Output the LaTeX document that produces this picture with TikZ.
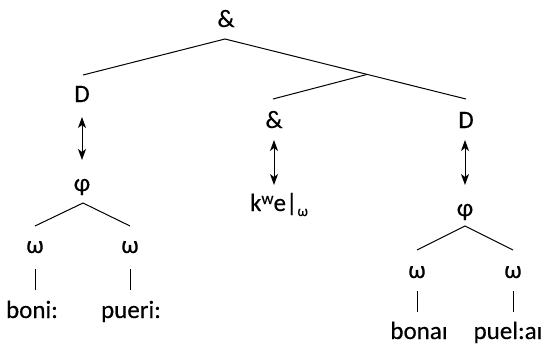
\documentclass[tikz,border=0pt]{standalone}
\usepackage{fontspec}
\setmainfont[FakeBold=0.3,AutoFakeBold=0.3]{Carlito}
\usetikzlibrary{arrows.meta,calc}

\tikzset{
  lab/.style={inner sep=0pt, anchor=base, font=\fontsize{25}{28}\selectfont\bfseries},
  branch/.style={line width=1pt},
  assoc/.style={line width=1pt, {Stealth[length=11pt,width=8pt,inset=3pt]}-{Stealth[length=11pt,width=8pt,inset=3pt]}},
}

\begin{document}
\begin{tikzpicture}[x=1pt,y=-1pt]
\useasboundingbox (0,0) rectangle (551,346);

% labels
\node[lab] (top) at (226,27) {\&};
\node[lab] (dl)  at (82,102) {D};
\node[lab] (cm)  at (274,128) {\&};
\node[lab] (dr)  at (466,128) {D};
\node[lab] (pl)  at (82,191) {φ};
\node[lab] (pr)  at (465,216) {φ};
\node[lab] (kwe) at (279,211) {k\raisebox{7pt}{\fontsize{17}{18}\selectfont w}e|\raisebox{-5pt}{\fontsize{15}{16}\selectfont ω}};
\node[lab] (w1)  at (35,253) {ω};
\node[lab] (w2)  at (130,253) {ω};
\node[lab] (w3)  at (417,278) {ω};
\node[lab] (w4)  at (513,278) {ω};
\node[lab] (s1)  at (32,318) {boni:};
\node[lab] (s2)  at (131,318) {pueri:};
\node[lab] (s3)  at (419,339) {bonaı};
\node[lab] (s4)  at (508,339) {puel:aı};

% attachment points of the tree branches
\coordinate (topb) at ($(top.base)+(-1,12)$);
\coordinate (dlt)  at ($(dl.base)+(1,-27)$);
\coordinate (drt)  at ($(dr.base)+(0,-29)$);
\coordinate (cmt)  at ($(cm.base)+(-1,-29)$);
\coordinate (join) at ($(topb)!0.59!(drt)$);
\coordinate (plb)  at ($(pl.base)+(1,12)$);
\coordinate (prb)  at ($(pr.base)+(0,10)$);

% upper tree
\draw[branch] (dlt) -- (topb) -- (drt);
\draw[branch] (cmt) -- (join);

% association lines
\draw[assoc] ($(dl.base)+(0,15)$) -- ($(pl.base)+(0,-31)$);
\draw[assoc] ($(cm.base)+(0,12)$) -- ($(cm.base |- kwe.base)+(0,-26)$);
\draw[assoc] ($(dr.base)+(-1,12)$) -- ($(pr.base)+(0,-31)$);

% phonological phrases
\draw[branch] ($(w1.base)+(0,-27)$) -- (plb) -- ($(w2.base)+(0,-27)$);
\draw[branch] ($(w3.base)+(0,-28)$) -- (prb) -- ($(w4.base)+(0,-28)$);

% words
\draw[branch] ($(w1.base)+(0,16)$) -- ($(w1.base |- s1.base)+(0,-28)$);
\draw[branch] ($(w2.base)+(0,16)$) -- ($(w2.base |- s2.base)+(0,-28)$);
\draw[branch] ($(w3.base)+(0,13)$) -- ($(w3.base |- s3.base)+(0,-27)$);
\draw[branch] ($(w4.base)+(0,13)$) -- ($(w4.base |- s4.base)+(0,-27)$);
\end{tikzpicture}
\end{document}
